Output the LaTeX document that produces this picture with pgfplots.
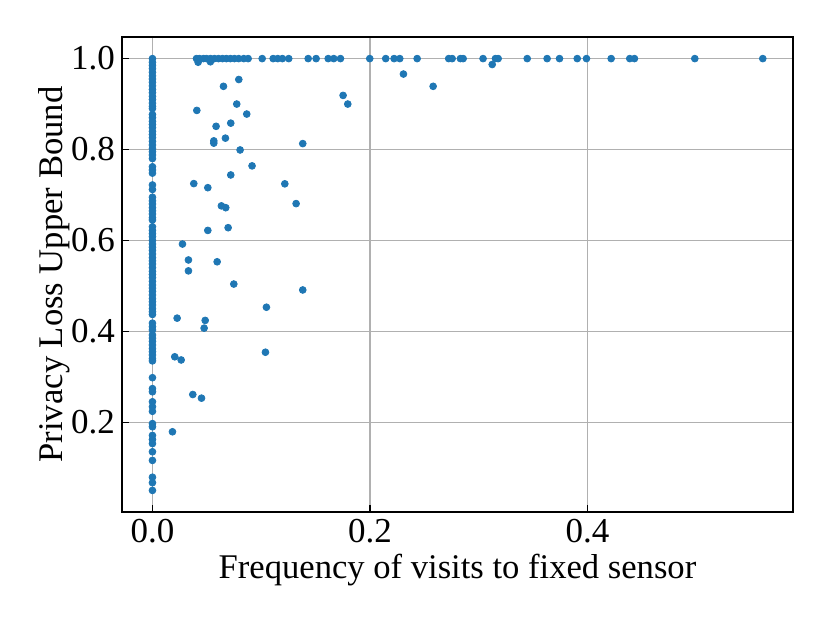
\documentclass[border=0pt]{standalone}
\usepackage{fontspec}
\setmainfont{Liberation Serif}
\usepackage{pgfplots}
\pgfplotsset{compat=1.18}
\definecolor{mblue}{HTML}{1F77B4}
\definecolor{mgrid}{HTML}{B0B0B0}
\begin{document}
\begin{tikzpicture}
\path[use as bounding box] (-61pt,-55.5pt) rectangle (354pt,256pt);
\begin{axis}[
  at={(0,0)}, anchor=south west,
  scale only axis, width=335.5pt, height=237.5pt,
  xmin=-0.028, xmax=0.589, ymin=0.0025, ymax=1.0475,
  xtick={0,0.2,0.4}, ytick={0.2,0.4,0.6,0.8,1.0},
  xticklabel style={/pgf/number format/.cd,fixed,fixed zerofill,precision=1},
  yticklabel style={/pgf/number format/.cd,fixed,fixed zerofill,precision=1},
  /pgf/number format/assume math mode=true,
  tick label style={font=\fontsize{17.5}{20}\selectfont},
  label style={font=\fontsize{17.3}{20}\selectfont},
  xlabel={Frequency of visits to fixed sensor},
  ylabel={Privacy Loss Upper Bound},
  tick align=inside, major tick length=3.5pt,
  tick style={black, line width=0.6pt},
  xtick pos=bottom, ytick pos=left,
  grid=major, major grid style={mgrid, line width=0.6pt},
  axis line style={line width=0.8pt},
  xlabel style={yshift=1pt},
  ylabel style={yshift=-6.5pt},
]
\addplot[only marks, mark=*, mark size=1.7pt, mblue, mark options={draw=mblue, fill=mblue}] coordinates {
(0,1.000)(0,0.992)(0,0.985)(0,0.978)(0,0.970)(0,0.962)(0,0.955)(0,0.948)(0,0.940)(0,0.932)
(0,0.925)(0,0.917)(0,0.910)(0,0.902)(0,0.895)(0,0.890)(0,0.877)(0,0.870)(0,0.862)(0,0.855)
(0,0.848)(0,0.840)(0,0.833)(0,0.826)(0,0.818)(0,0.810)(0,0.802)(0,0.795)(0,0.788)(0,0.780)
(0,0.762)(0,0.755)(0,0.748)(0,0.722)(0,0.712)(0,0.695)(0,0.687)(0,0.680)(0,0.672)(0,0.665)
(0,0.658)(0,0.650)(0,0.645)(0,0.630)(0,0.622)(0,0.615)(0,0.608)(0,0.600)(0,0.592)(0,0.585)
(0,0.578)(0,0.570)(0,0.562)(0,0.555)(0,0.548)(0,0.540)(0,0.532)(0,0.525)(0,0.518)(0,0.510)
(0,0.502)(0,0.495)(0,0.488)(0,0.480)(0,0.472)(0,0.465)(0,0.458)(0,0.450)(0,0.443)(0,0.437)
(0,0.418)(0,0.410)(0,0.403)(0,0.392)(0,0.385)(0,0.378)(0,0.370)(0,0.362)(0,0.355)(0,0.348)
(0,0.340)(0,0.335)(0,0.298)(0,0.274)(0,0.267)(0,0.245)(0,0.234)(0,0.224)(0,0.197)(0,0.190)
(0,0.171)(0,0.162)(0,0.153)(0,0.135)(0,0.116)(0,0.079)(0,0.067)(0,0.050)
(0.0405,1)(0.0432,1)(0.0469,1)(0.0497,1)(0.0534,1)(0.0570,1)(0.0607,1)(0.0644,1)(0.0680,1)
(0.0717,1)(0.0754,1)(0.0793,1)(0.0840,1)(0.0880,1)(0.1009,1)(0.1110,1)(0.1152,1)(0.1195,1)
(0.1253,1)(0.1432,1)(0.1505,1)(0.1616,1)(0.1667,1)(0.1729,1)(0.1998,1)(0.2145,1)(0.2222,1)
(0.2274,1)(0.2434,1)(0.2724,1)(0.2756,1)(0.2832,1)(0.2857,1)(0.3040,1)(0.3154,1)(0.3179,1)
(0.3446,1)(0.3629,1)(0.3743,1)(0.3906,1)(0.3991,1)(0.4218,1)(0.4389,1)(0.4432,1)(0.4987,1)
(0.5612,1)
(0.042,0.992)(0.0533,0.993)(0.3124,0.987)(0.2308,0.966)(0.2581,0.939)(0.1753,0.919)
(0.1796,0.900)(0.1382,0.813)(0.1382,0.491)
(0.0794,0.954)(0.0653,0.939)(0.0408,0.886)(0.0775,0.900)(0.0867,0.878)(0.0585,0.851)
(0.0720,0.858)(0.0564,0.819)(0.0564,0.814)(0.0671,0.825)(0.0806,0.799)(0.0916,0.764)
(0.0720,0.744)(0.0380,0.725)(0.0509,0.716)(0.1217,0.7245)(0.1321,0.681)(0.0634,0.676)
(0.0674,0.672)(0.0509,0.622)(0.0696,0.628)(0.0276,0.592)(0.0331,0.557)(0.0595,0.553)
(0.0331,0.533)(0.0748,0.504)(0.1048,0.453)(0.0227,0.429)(0.0485,0.424)(0.0475,0.407)
(0.1039,0.354)(0.0205,0.344)(0.0264,0.337)(0.0371,0.261)(0.0451,0.253)(0.0184,0.179)
};
\end{axis}
\end{tikzpicture}
\end{document}
